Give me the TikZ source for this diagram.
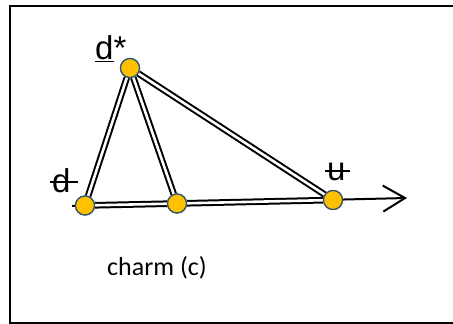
\documentclass[tikz,border=0pt]{standalone}
\usepackage{fontspec}
\setmainfont{Carlito}
\newfontfamily\labfont{Liberation Sans}
\usetikzlibrary{arrows.meta}
\definecolor{dotfill}{RGB}{255,192,0}
\definecolor{dotedge}{RGB}{47,82,110}
\begin{document}
\begin{tikzpicture}[x=1pt,y=-1pt,
  dot/.style={circle,draw=dotedge,line width=1.2pt,fill=dotfill,minimum size=19pt,inner sep=0pt},
  dline/.style={draw=black,line width=2pt,double=white,double distance=2.6pt},
  axisline/.style={draw=black,line width=2pt,-{Straight Barb[length=22pt,width=26pt,line width=2pt]}},
  lab/.style={inner sep=0pt,anchor=base west,font=\labfont\fontsize{33}{36}\selectfont}]
\useasboundingbox (0,0) rectangle (453,324);
\draw[line width=2pt] (460,6) -- (10,6) -- (10,323) -- (460,323);
\coordinate (a0) at (72,206);
\coordinate (a1) at (407,198);
\node[dot] (ds) at (130,68) {};
\node[dot] (dd) at (85,205.5) {};
\node[dot] (dm) at (177,203.5) {};
\node[dot] (du) at (333,200) {};
\draw[axisline] (a0) -- (a1);
\draw[dline] (ds) -- (dd);
\draw[dline] (ds) -- (dm);
\draw[dline] (ds) -- (du);
\draw[dline] (dd) -- (dm);
\draw[dline] (dm) -- (du);
\node[dot] at (ds.center) {};
\node[dot] at (dd.center) {};
\node[dot] at (dm.center) {};
\node[dot] at (du.center) {};
\node[lab] (lds) at (95,59) {\underline{d}*};
\node[lab] (ldd) at (50,192) {\rlap{\rule[9pt]{28pt}{2pt}}\hspace{2pt}d};
\node[lab] (ldu) at (325,180) {\rlap{\rule[8pt]{25pt}{2pt}}\hspace{2pt}u};
\node[inner sep=0pt,anchor=base west,font=\fontsize{26}{28}\selectfont] (lc) at (107,275) {charm (c)};
\end{tikzpicture}
\end{document}
